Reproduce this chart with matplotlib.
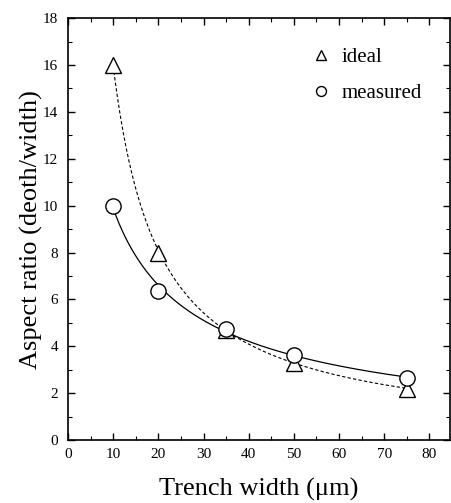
import numpy as np
import matplotlib
matplotlib.use("Agg")
import matplotlib.pyplot as plt
from matplotlib.ticker import MultipleLocator

plt.rcParams['font.family'] = ['Liberation Serif', 'DejaVu Serif']

# trench width (um)
width = [10, 20, 35, 50, 75]
# aspect ratios
ideal = [16.0, 8.0, 4.7, 3.3, 2.2]
measured = [10.0, 6.35, 4.75, 3.65, 2.65]

fig = plt.figure(figsize=(4.51, 5.03), dpi=100)
ax = fig.add_axes([0.151, 0.125, 0.847, 0.839])

# smooth guide curves: quadratic fit in log-log space
xs = np.linspace(10, 75, 300)
p_id = np.polyfit(np.log(width), np.log(ideal), 2)
p_me = np.polyfit(np.log(width), np.log(measured), 2)
ax.plot(xs, np.exp(np.polyval(p_id, np.log(xs))), 'k--', lw=0.8, dashes=(3, 2))
ax.plot(xs, np.exp(np.polyval(p_me, np.log(xs))), 'k-', lw=0.9)

ax.plot(width, ideal, '^', ms=12, mfc='white', mec='black', mew=1.0, label='ideal')
ax.plot(width, measured, 'o', ms=11, mfc='white', mec='black', mew=1.0, label='measured')

ax.set_xlim(0, 84.6)
ax.set_ylim(0, 18)
ax.xaxis.set_major_locator(MultipleLocator(10))
ax.xaxis.set_minor_locator(MultipleLocator(5))
ax.yaxis.set_major_locator(MultipleLocator(2))
ax.yaxis.set_minor_locator(MultipleLocator(1))
ax.tick_params(which='both', direction='in', top=True, right=True, labelsize=11)
ax.tick_params(which='major', length=5, width=1.0)
ax.tick_params(which='minor', length=3, width=0.8)
ax.tick_params(axis='x', which='major', pad=6)
ax.tick_params(axis='y', which='major', pad=7)
for s in ax.spines.values():
    s.set_linewidth(1.2)

ax.set_xlabel('Trench width (μm)', fontsize=19, labelpad=12)
ax.set_ylabel('Aspect ratio (deoth/width)', fontsize=19, labelpad=0)

leg = ax.legend(loc='upper right', bbox_to_anchor=(0.975, 0.975), frameon=False,
                fontsize=15, handletextpad=0.6, labelspacing=0.8, markerscale=0.65,
                handlelength=0.8)

fig.savefig('out.png', dpi=100)
